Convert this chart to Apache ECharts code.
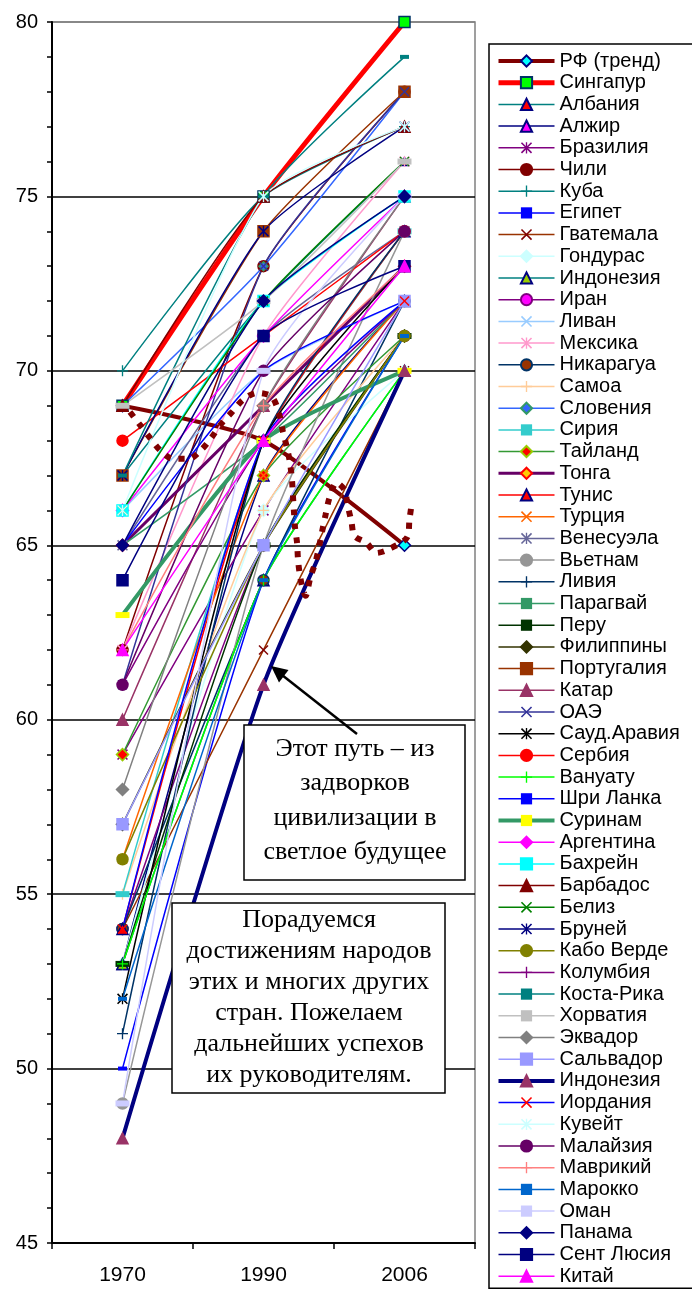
<!DOCTYPE html>
<html>
<head>
<meta charset="utf-8">
<script src="https://cdn.jsdelivr.net/npm/echarts@6/dist/echarts.min.js"></script>
<style>
html,body{margin:0;padding:0;background:#fff;}
#chart{width:692px;height:1295px;}
</style>
</head>
<body>
<div id="chart"></div>
<script>
// ---------- DATA ----------
const categories = ['1970', '1990', '2006'];
const yTicks = [45, 50, 55, 60, 65, 70, 75, 80];

const countries = [
  'РФ (тренд)','Сингапур','Албания','Алжир','Бразилия','Чили','Куба','Египет','Гватемала','Гондурас',
  'Индонезия','Иран','Ливан','Мексика','Никарагуа','Самоа','Словения','Сирия','Тайланд','Тонга',
  'Тунис','Турция','Венесуэла','Вьетнам','Ливия','Парагвай','Перу','Филиппины','Португалия','Катар',
  'ОАЭ','Сауд.Аравия','Сербия','Вануату','Шри Ланка','Суринам','Аргентина','Бахрейн','Барбадос','Белиз',
  'Бруней','Кабо Верде','Колумбия','Коста-Рика','Хорватия','Эквадор','Сальвадор','Индонезия\u200B','Иордания','Кувейт',
  'Малайзия','Маврикий','Марокко','Оман','Панама','Сент Люсия','Китай'
];
const v1970 = [
  69,69,67,53,59,62,70,50,54,53,
  53,54,66,62,54,55,69,55,59,65,
  54,56,65,49,51,65,53,57,67,60,
  61,52,68,53,65,63,66,66,69,66,
  67,56,61,67,69,58,57,48,54,66,
  61,62,52,49,65,64,62
];
const v1990 = [
  68,75,72,67,66,73,75,64,62,66,
  64,65,70,71,64,66,73,68,67,69,
  68,67,71,65,68,68,65,65,74,69,
  73,68,71,64,70,68,71,72,75,72,
  74,65,68,75,72,69,65,61,68,75,
  70,69,64,70,72,71,68
];
const v2006 = [
  65,80,76,72,72,78,77,71,70,70,
  70,71,72,76,72,71,78,74,71,73,
  74,72,74,74,74,72,71,71,78,75,
  78,73,74,70,72,70,75,75,77,76,
  77,71,72,79,76,75,72,70,72,77,
  74,73,71,75,75,73,73
];
// dotted trend curve of RF (position along the category axis, value)
const trendX = [0.053,0.124,0.195,0.266,0.358,0.472,0.564,0.635,0.706,0.777,0.855,0.954,1.060,1.117,1.138,1.167,1.188,1.202,1.209,1.216,1.223,1.238,1.245,1.259,1.280,1.298,1.333,1.369,1.397,1.418,1.440,1.468,1.518,1.574,1.596,1.624,1.645,1.730,1.801,1.879,2.021,2.035,2.050];
const trendY = [68.82,68.45,68.08,67.73,67.48,67.48,67.76,68.11,68.51,68.82,69.17,69.37,69.25,68.68,68.25,67.79,67.36,66.87,66.41,65.96,65.53,65.07,64.58,64.12,63.72,63.55,64.09,64.52,65.01,65.44,65.87,66.36,66.79,66.59,66.16,65.67,65.27,65.07,64.78,64.87,65.24,65.73,66.16];

// ---------- STYLES ----------
// [lineColor, symbolKind, fill, border, lineWidth]
const styles = [
  ['#800000','diamond','#00FFFF','#000080',4],
  ['#FF0000','rect','#00FF00','#003366',5],
  ['#008080','smalltri','#FF0000','#000080',1.5],
  ['#000080','triangle','#FF00FF','#000080',1.5],
  ['#800080','star','#800080',null,1.5],
  ['#800000','circle','#800000','#800000',1.5],
  ['#008080','plus','#008080',null,1.5],
  ['#0000FF','dash','#0000FF',null,1.5],
  ['#993300','x','#800000',null,1.5],
  ['#CCFFFF','diamond','#CCFFFF','#CCFFFF',1.5],
  ['#008080','triangle','#99CC00','#000080',1.5],
  ['#800080','circle','#FF00FF','#800080',1.5],
  ['#99CCFF','x','#99CCFF',null,1.5],
  ['#FF99CC','star','#FF99CC',null,1.5],
  ['#003366','circle','#993300','#003366',1.5],
  ['#FFCC99','plus','#FFCC99',null,1.5],
  ['#3366FF','smalldia','#3366FF','#339966',1.5],
  ['#33CCCC','wdash','#33CCCC',null,1.5],
  ['#339933','diamond','#FF0000','#99CC00',1.5],
  ['#660066','diamond','#FFCC00','#FF0000',3],
  ['#FF0000','triangle','#FF0000','#000080',1.5],
  ['#FF6600','x','#FF6600',null,1.5],
  ['#666699','star','#666699',null,1.5],
  ['#969696','circle','#969696','#969696',1.5],
  ['#003366','plus','#003366',null,1.5],
  ['#339966','dash','#339966',null,1.5],
  ['#003300','wdash','#003300',null,1.5],
  ['#333300','diamond','#333300','#333300',1.5],
  ['#993300','rect','#993300','#993300',1.5],
  ['#993366','triangle','#993366','#993366',1.5],
  ['#333399','x','#333399',null,1.5],
  ['#000000','star','#000000',null,1.5],
  ['#FF0000','circle','#FF0000','#FF0000',1.5],
  ['#00FF00','plus','#00FF00',null,1.5],
  ['#0000FF','dash','#0000FF',null,1.5],
  ['#339966','wdash','#FFFF00',null,4],
  ['#FF00FF','diamond','#FF00FF','#FF00FF',1.5],
  ['#00FFFF','rect','#00FFFF','#00FFFF',1.5],
  ['#800000','triangle','#800000','#800000',1.5],
  ['#008000','x','#008000',null,1.5],
  ['#000080','star','#000080',null,1.5],
  ['#808000','circle','#808000','#808000',1.5],
  ['#800080','plus','#800080',null,1.5],
  ['#008080','dash','#008080',null,1.5],
  ['#C0C0C0','wdash','#C0C0C0',null,1.5],
  ['#808080','diamond','#808080','#808080',1.5],
  ['#9999FF','rect','#9999FF','#9999FF',1.5],
  ['#000080','triangle','#993366','#993366',4],
  ['#0000FF','x','#FF0000',null,1.5],
  ['#CCFFFF','star','#CCFFFF',null,1.5],
  ['#660066','circle','#660066','#660066',1.5],
  ['#FF8080','plus','#FF8080',null,1.5],
  ['#0066CC','dash','#0066CC',null,1.5],
  ['#CCCCFF','wdash','#CCCCFF',null,1.5],
  ['#000080','diamond','#000080','#000080',1.5],
  ['#000080','rect','#000080','#000080',1.5],
  ['#FF00FF','triangle','#FF00FF','#FF00FF',1.5]
];

const X_PATH = 'path://M1,0L5,4L9,0L10,1L6,5L10,9L9,10L5,6L1,10L0,9L4,5L0,1Z';
const PLUS_PATH = 'path://M4.4,0H5.6V4.4H10V5.6H5.6V10H4.4V5.6H0V4.4H4.4Z';
const STAR_PATH = 'path://M1,0L5,4L9,0L10,1L6,5L10,9L9,10L5,6L1,10L0,9L4,5L0,1Z M4.4,0H5.6V10H4.4Z';

function symbolOf(kind) {
  switch (kind) {
    case 'diamond': return ['diamond', 12];
    case 'smalldia': return ['diamond', 9];
    case 'rect': return ['rect', 11];
    case 'triangle': return ['triangle', 11];
    case 'smalltri': return ['triangle', 8];
    case 'circle': return ['circle', 11];
    case 'x': return [X_PATH, 10];
    case 'plus': return [PLUS_PATH, 11];
    case 'star': return [STAR_PATH, 11];
    case 'dash': return ['rect', [9, 4]];
    case 'wdash': return ['rect', [14, 6]];
  }
}

const FONT = "'Liberation Sans', Arial, sans-serif";
const SERIF = "'Liberation Serif', 'Times New Roman', serif";

const series = countries.map((name, i) => {
  const st = styles[i];
  const sym = symbolOf(st[1]);
  return {
    name: name,
    type: 'line',
    data: [v1970[i], v1990[i], v2006[i]],
    smooth: 0.2,
    symbol: sym[0],
    symbolSize: sym[1],
    lineStyle: { color: st[0], width: st[4] },
    itemStyle: {
      color: st[2],
      borderColor: st[3] || st[2],
      borderWidth: st[3] ? 1.5 : 0
    },
    emphasis: { disabled: true },
    z: 2
  };
});

series.push({
  name: 'trend',
  type: 'line',
  xAxisIndex: 1,
  data: trendX.map((x, i) => [x, trendY[i]]),
  smooth: 0.3,
  showSymbol: false,
  symbol: 'none',
  lineStyle: { color: '#800000', width: 6, type: [6, 8], cap: 'butt' },
  emphasis: { disabled: true },
  z: 3
});

const legendData = countries.map((name, i) => ({
  name: name,
  lineStyle: { width: styles[i][4] > 2 ? styles[i][4] : 1.5 }
}));

// annotation boxes
const box1Lines = ['Этот путь – из', 'задворков', 'цивилизации в', 'светлое будущее'];
const box2Lines = ['Порадуемся', 'достижениям народов', 'этих и многих других', 'стран. Пожелаем', 'дальнейших успехов', 'их руководителям.'];

const graphics = [
  { type: 'rect', z: 100, shape: { x: 244, y: 725, width: 221, height: 155 },
    style: { fill: '#fff', stroke: '#000', lineWidth: 1.5 } },
  { type: 'rect', z: 100, shape: { x: 172, y: 903, width: 273, height: 190 },
    style: { fill: '#fff', stroke: '#000', lineWidth: 1.5 } },
  { type: 'line', z: 100, shape: { x1: 357, y1: 734, x2: 282, y2: 675 },
    style: { stroke: '#000', lineWidth: 2.5 } },
  { type: 'polygon', z: 100, shape: { points: [[271, 666], [288.5, 670], [279, 682.5]] },
    style: { fill: '#000' } }
];
box1Lines.forEach((t, k) => graphics.push({
  type: 'text', z: 101,
  style: { text: t, x: 355, y: 749 + k * 34.5, font: '26px ' + SERIF, fill: '#000',
           textAlign: 'center', textVerticalAlign: 'middle' }
}));
box2Lines.forEach((t, k) => graphics.push({
  type: 'text', z: 101,
  style: { text: t, x: 309, y: 920 + k * 31, font: '26px ' + SERIF, fill: '#000',
           textAlign: 'center', textVerticalAlign: 'middle' }
}));

const chart = echarts.init(document.getElementById('chart'), null, { renderer: 'canvas' });
chart.setOption({
  animation: false,
  backgroundColor: '#fff',
  textStyle: { fontFamily: FONT },
  grid: { left: 52, right: 217, top: 22, bottom: 52, show: true, borderColor: '#808080', borderWidth: 1.5, backgroundColor: 'transparent' },
  legend: {
    data: legendData,
    orient: 'vertical',
    left: 489, top: 44,
    padding: [7, 20, 2, 7],
    itemWidth: 56, itemHeight: 14, itemGap: 1.7,
    borderColor: '#000', borderWidth: 1.5,
    backgroundColor: '#fff',
    selectedMode: false,
    textStyle: { fontSize: 20, lineHeight: 20, color: '#000', fontFamily: FONT }
  },
  xAxis: [
    {
      type: 'category', data: categories, boundaryGap: true,
      axisLine: { lineStyle: { color: '#000', width: 2 } },
      axisTick: { show: true, length: 6, alignWithLabel: false, lineStyle: { color: '#000', width: 1.5 } },
      axisLabel: { fontSize: 21, color: '#000', margin: 22, fontFamily: FONT },
      splitLine: { show: false }
    },
    { type: 'value', min: -0.5, max: 2.5, show: false }
  ],
  yAxis: {
    type: 'value', min: yTicks[0], max: yTicks[yTicks.length - 1], interval: 5,
    axisLine: { show: true, onZero: false, lineStyle: { color: '#000', width: 2 } },
    axisTick: { show: true, length: 5, lineStyle: { color: '#000', width: 1.5 } },
    minorTick: { show: true, splitNumber: 5, length: 5, lineStyle: { color: '#000', width: 1.5 } },
    axisLabel: { fontSize: 20, color: '#000', margin: 14, fontFamily: FONT },
    splitLine: { show: true, lineStyle: { color: ['#000','#000','#000','#000','#000','#000','#000','#808080'], width: 1.5 } }
  },
  graphic: graphics,
  series: series
});
</script>
</body>
</html>
